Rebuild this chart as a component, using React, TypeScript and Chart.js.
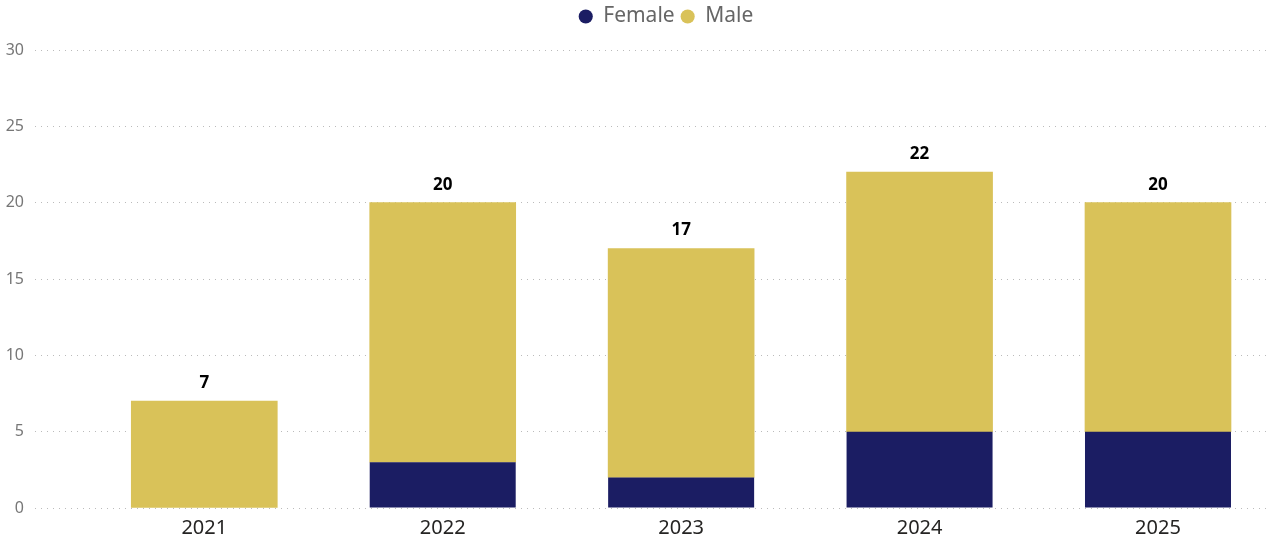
import React, { useEffect, useRef } from 'react';
import Chart from 'chart.js/auto';

const years = [2021, 2022, 2023, 2024, 2025];
const femaleCounts = [0, 3, 2, 5, 5];
const maleCounts = [7, 17, 15, 17, 15];
const yTicks = [0, 5, 10, 15, 20, 25, 30];

const FONT = '"Segoe UI", "Noto Sans", "Open Sans", sans-serif';

// totals above each stacked column
const totalLabels = {
  id: 'totalLabels',
  afterDatasetsDraw(chart: any) {
    const { ctx } = chart;
    const lastMeta = chart.getDatasetMeta(chart.data.datasets.length - 1);
    ctx.save();
    ctx.font = `bold 17px ${FONT}`;
    ctx.fillStyle = '#000000';
    ctx.textAlign = 'center';
    ctx.textBaseline = 'alphabetic';
    years.forEach((_, i) => {
      const bar = lastMeta.data[i];
      if (!bar) return;
      const total = femaleCounts[i] + maleCounts[i];
      ctx.fillText(String(total), bar.x, bar.y - 13);
    });
    ctx.restore();
  },
};

// extra room below the legend, and nudge it right like the original
const legendTweak = {
  id: 'legendTweak',
  afterInit(chart: any) {
    const legend = chart.legend;
    if (!legend) return;
    const fit = legend.fit;
    legend.fit = function () {
      fit.call(this);
      this.height += 13;
    };
  },
  afterLayout(chart: any) {
    if (chart.legend) chart.legend.left += 66;
  },
};

export default function App() {
  const canvasRef = useRef<HTMLCanvasElement>(null);
  const chartRef = useRef<Chart | null>(null);

  useEffect(() => {
    if (!canvasRef.current) return;
    const ctx = canvasRef.current.getContext('2d');
    if (!ctx) return;
    if (chartRef.current) chartRef.current.destroy();

    chartRef.current = new Chart(ctx, {
      type: 'bar',
      data: {
        datasets: [
          {
            label: 'Female',
            data: years.map((y, i) => ({ x: y, y: femaleCounts[i] })),
            backgroundColor: '#1B1D63',
            barThickness: 146,
            inflateAmount: 0,
          },
          {
            label: 'Male',
            data: years.map((y, i) => ({ x: y, y: maleCounts[i] })),
            backgroundColor: '#D9C259',
            barThickness: 146,
          },
        ],
      },
      options: {
        animation: false,
        responsive: true,
        maintainAspectRatio: false,
        layout: { padding: { right: 6, bottom: 4 } },
        plugins: {
          tooltip: { enabled: false },
          legend: {
            position: 'top',
            align: 'center',
            labels: {
              usePointStyle: true,
              pointStyle: 'circle',
              boxWidth: 14,
              boxHeight: 10,
              padding: 6,
              color: '#666666',
              font: { family: FONT, size: 21 },
            },
          },
        },
        scales: {
          x: {
            type: 'linear',
            stacked: true,
            offset: false,
            min: 2020.29,
            max: 2025.453,
            grid: { display: false, drawTicks: false },
            border: { display: false },
            afterBuildTicks: (scale: any) => {
              scale.ticks = years.map((v) => ({ value: v }));
            },
            ticks: {
              stepSize: 1,
              includeBounds: false,
              padding: 8,
              color: '#252423',
              font: { family: FONT, size: 20 },
              callback: (v: any) => String(v),
            },
          },
          y: {
            stacked: true,
            min: 0,
            max: 30,
            afterBuildTicks: (scale: any) => {
              scale.ticks = yTicks.map((v) => ({ value: v }));
            },
            afterFit: (scale: any) => {
              scale.width = 35;
            },
            grid: {
              color: '#bbbbbb',
              lineWidth: 1,
              drawTicks: false,
            },
            border: { display: false, dash: [1, 5] },
            ticks: {
              padding: 11,
              color: '#777777',
              font: { family: FONT, size: 16 },
            },
          },
        },
      },
      plugins: [totalLabels, legendTweak],
    });

    return () => {
      if (chartRef.current) chartRef.current.destroy();
      chartRef.current = null;
    };
  }, []);

  return (
    <div style={{ position: 'fixed', left: 0, top: 0, width: 1272, height: 552, background: '#ffffff' }}>
      <canvas ref={canvasRef}></canvas>
    </div>
  );
}
